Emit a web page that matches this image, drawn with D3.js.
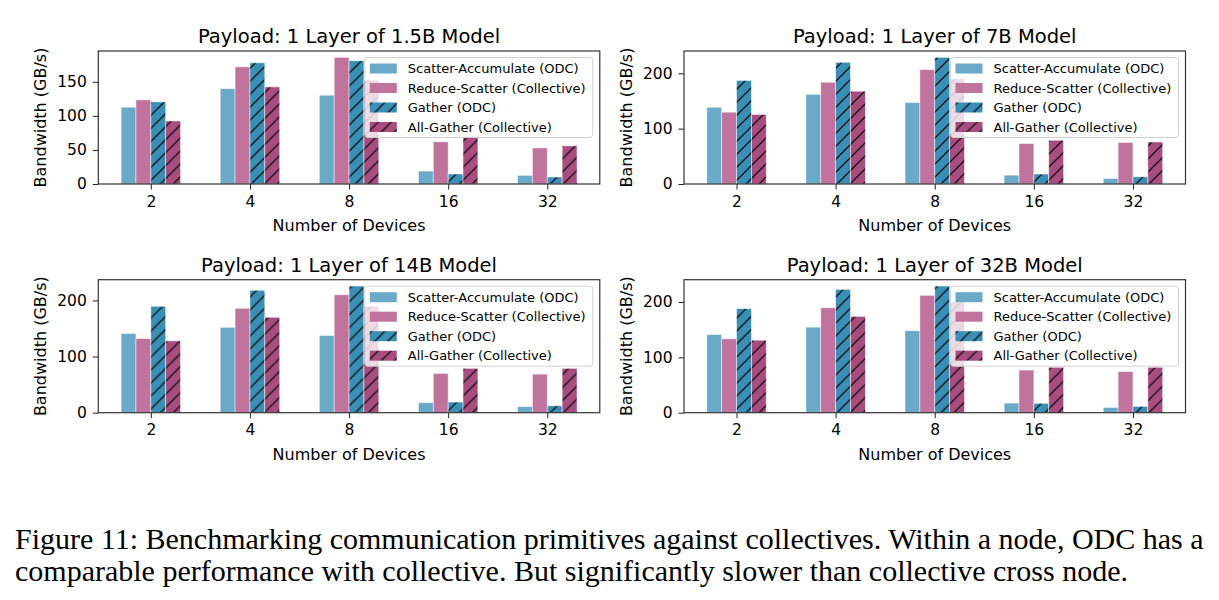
<!DOCTYPE html>
<html><head><meta charset="utf-8">
<script src="https://cdn.jsdelivr.net/npm/d3@7"></script>
<style>
html,body{margin:0;padding:0;background:#fff;}
svg{display:block;}
text{font-family:"DejaVu Sans",sans-serif;fill:#000;}
</style></head>
<body>
<svg id="chart" width="1219" height="600"></svg>
<script>
// ---------------- data ----------------
const categories = ["2", "4", "8", "16", "32"];
const seriesNames = ["Scatter-Accumulate (ODC)", "Reduce-Scatter (Collective)", "Gather (ODC)", "All-Gather (Collective)"];
const panelTitles = ["Payload: 1 Layer of 1.5B Model", "Payload: 1 Layer of 7B Model", "Payload: 1 Layer of 14B Model", "Payload: 1 Layer of 32B Model"];

const scatterAcc_1_5B   = [112.8, 140.0, 130.4, 19.0, 12.7];
const reduceScatter_1_5B = [123.5, 172.0, 186.0, 62.0, 53.0];
const gather_1_5B       = [120.6, 178.0, 181.0, 14.7, 10.3];
const allGather_1_5B    = [92.6, 142.6, 152.5, 70.0, 56.0];

const scatterAcc_7B     = [138.7, 162.0, 147.0, 16.0, 10.0];
const reduceScatter_7B  = [129.7, 183.8, 206.6, 73.0, 75.0];
const gather_7B         = [187.0, 219.8, 228.8, 18.0, 13.0];
const allGather_7B      = [125.5, 167.6, 190.0, 79.0, 76.0];

const scatterAcc_14B    = [141.0, 152.0, 137.5, 17.8, 10.7];
const reduceScatter_14B = [132.0, 186.0, 210.0, 70.0, 68.7];
const gather_14B        = [189.5, 218.0, 225.6, 19.0, 12.4];
const allGather_14B     = [128.0, 170.0, 189.5, 79.0, 79.0];

const scatterAcc_32B    = [141.0, 154.5, 148.0, 17.4, 9.6];
const reduceScatter_32B = [133.5, 189.5, 212.0, 77.0, 74.3];
const gather_32B        = [188.0, 222.8, 228.8, 17.0, 11.4];
const allGather_32B     = [131.0, 174.0, 200.0, 82.0, 82.0];

const yTicks_1_5B = [0, 50, 100, 150];
const yTicks_7B   = [0, 100, 200];
const yTicks_14B  = [0, 100, 200];
const yTicks_32B  = [0, 100, 200];

const xLabel = "Number of Devices";
const yLabel = "Bandwidth (GB/s)";
const captionLines = [
  "Figure 11: Benchmarking communication primitives against collectives. Within a node, ODC has a",
  "comparable performance with collective. But significantly slower than collective cross node."
];

// ---------------- styling / layout ----------------
const colors = ["#6aaac8", "#c0739d", "#3a8fb7", "#a94d80"];
const hatched = [false, false, true, true];

const panels = [
  {title: panelTitles[0], series: [scatterAcc_1_5B, reduceScatter_1_5B, gather_1_5B, allGather_1_5B], ticks: yTicks_1_5B, left: 98.3, top: 51},
  {title: panelTitles[1], series: [scatterAcc_7B, reduceScatter_7B, gather_7B, allGather_7B], ticks: yTicks_7B, left: 684, top: 51},
  {title: panelTitles[2], series: [scatterAcc_14B, reduceScatter_14B, gather_14B, allGather_14B], ticks: yTicks_14B, left: 98.3, top: 279.7},
  {title: panelTitles[3], series: [scatterAcc_32B, reduceScatter_32B, gather_32B, allGather_32B], ticks: yTicks_32B, left: 684, top: 279.7}
];
const W = 501.5, H = 133;
const barW = 0.15;
const HS = 13; // hatch spacing

const svg = d3.select("#chart");
const defs = svg.append("defs");
colors.forEach((c, i) => {
  if (!hatched[i]) return;
  const p = defs.append("pattern").attr("id", "hatch" + i)
    .attr("patternUnits", "userSpaceOnUse").attr("width", HS).attr("height", HS);
  p.append("rect").attr("width", HS).attr("height", HS).attr("fill", c);
  p.append("path").attr("d", `M-2,${HS + 2} L${HS + 2},-2 M-2,2 L2,-2 M${HS - 2},${HS + 2} L${HS + 2},${HS - 2}`)
    .attr("stroke", "#111").attr("stroke-width", 1.3).attr("fill", "none");
});
const fillFor = i => hatched[i] ? `url(#hatch${i})` : colors[i];

panels.forEach(p => {
  const g = svg.append("g").attr("transform", `translate(${p.left},${p.top})`);
  const ymax = d3.max(p.series.flat()) * 1.05;
  const x = d3.scaleLinear().domain([-0.53, 4.53]).range([0, W]);
  const y = d3.scaleLinear().domain([0, ymax]).range([H, 0]);

  // bars
  p.series.forEach((vals, s) => {
    g.append("g").selectAll("rect").data(vals).join("rect")
      .attr("x", (d, i) => x(i + (s - 1.5) * barW - barW / 2))
      .attr("width", x(barW) - x(0))
      .attr("y", d => y(d))
      .attr("height", d => y(0) - y(d))
      .attr("fill", fillFor(s))
      .attr("stroke", "rgba(255,255,255,0.6)")
      .attr("stroke-width", 0.8);
  });

  // axes
  const xa = g.append("g").attr("transform", `translate(0,${H})`)
    .call(d3.axisBottom(x).tickValues(d3.range(categories.length)).tickFormat(i => categories[i]).tickSize(5.5).tickPadding(6));
  const ya = g.append("g")
    .call(d3.axisLeft(y).tickValues(p.ticks).tickSize(5.5).tickPadding(6));
  [xa, ya].forEach(a => {
    a.select(".domain").remove();
    a.selectAll("line").attr("stroke", "#222").attr("stroke-width", 1);
    a.selectAll("text").style("font-family", "DejaVu Sans").style("font-size", "15.5px").attr("fill", "#000");
  });
  g.append("rect").attr("width", W).attr("height", H)
    .attr("fill", "none").attr("stroke", "#333").attr("stroke-width", 1.2);

  // titles & labels
  g.append("text").attr("x", W / 2).attr("y", -8).attr("text-anchor", "middle")
    .style("font-size", "19.5px").text(p.title);
  g.append("text").attr("x", W / 2).attr("y", H + 47).attr("text-anchor", "middle")
    .style("font-size", "16px").text(xLabel);
  g.append("text").attr("transform", `translate(${-52},${H / 2}) rotate(-90)`)
    .attr("text-anchor", "middle").style("font-size", "16px").text(yLabel);

  // legend
  const lw = 228, lh = 80;
  const lg = g.append("g").attr("transform", `translate(${W - 7 - lw},${6.5})`);
  lg.append("rect").attr("width", lw).attr("height", lh).attr("rx", 3)
    .attr("fill", "rgba(255,255,255,0.8)").attr("stroke", "#d0d0d0").attr("stroke-width", 1);
  seriesNames.forEach((n, i) => {
    const cy = 11 + i * 19.5;
    lg.append("rect").attr("x", 5).attr("y", cy - 5).attr("width", 27).attr("height", 10)
      .attr("fill", fillFor(i));
    lg.append("text").attr("x", 43).attr("y", cy + 4.5).style("font-size", "13px").text(n);
  });
});

// caption
captionLines.forEach((t, i) => {
  svg.append("text").attr("x", 15).attr("y", 549 + i * 32)
    .style("font-family", "Liberation Serif, serif").style("font-size", "30px").text(t);
});
</script>
</body></html>
